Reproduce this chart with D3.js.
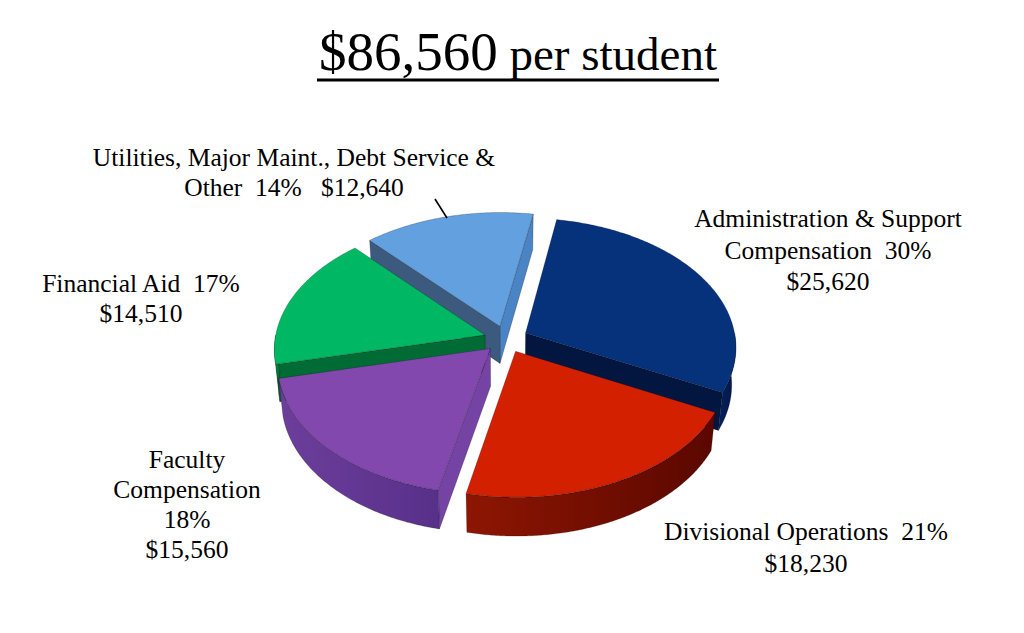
<!DOCTYPE html>
<html><head><meta charset="utf-8">
<script src="https://cdn.jsdelivr.net/npm/d3@7"></script>
<style>
html,body{margin:0;padding:0;background:#fff;}
svg{display:block;font-family:"Liberation Serif","Times New Roman",serif;}
text{white-space:pre;}
</style></head>
<body>
<script>
// ---------- data ----------
const titleMain = "$86,560";
const titleSub = " per student";
const categories = [
  "Administration & Support Compensation",
  "Divisional Operations",
  "Faculty Compensation",
  "Financial Aid",
  "Utilities, Major Maint., Debt Service & Other"
];
const amounts = [25620, 18230, 15560, 14510, 12640];
const percents = ["30%", "21%", "18%", "17%", "14%"];
const labelLines = [
  ["Administration & Support", "Compensation  30%", "$25,620"],
  ["Divisional Operations  21%", "$18,230"],
  ["Faculty", "Compensation", "18%", "$15,560"],
  ["Financial Aid  17%", "$14,510"],
  ["Utilities, Major Maint., Debt Service &", "Other  14%   $12,640"]
];

// ---------- style / layout ----------
const W = 1024, H = 633;
const topColors = ["#05327A", "#D22000", "#8248AE", "#00B864", "#62A0DF"];
const wallColors = [["#06215E", "#021643"], ["#8E1602", "#5A0700"], ["#6D3E9B", "#57308A"], ["#008C46", "#006A33"], ["#4F86C6", "#3D5B7E"]];
const cutColors = [["#031A4C", "#021640"], ["#7A1000", "#7A1000"], ["#7443A4", "#7443A4"], ["#006B34", "#006B34"], ["#3C5A7E", "#4A84C4"]];
const labelPos = [
  {x: 828, y: 227, dy: 31.5},
  {x: 806, y: 540, dy: 32},
  {x: 187, y: 468, dy: 30},
  {x: 141, y: 292, dy: 30},
  {x: 294, y: 166, dy: 29.5}
];
const cfg = {cx: 506, cy: 339, R: 210, E: 22, T: 48, sinA: 0.61, F: 1600, start: 10, minWall: 0.1};

const svg = d3.select("body").append("svg").attr("width", W).attr("height", H);
const defs = svg.append("defs");

// ---------- projection ----------
const cosA = Math.sqrt(1 - cfg.sinA * cfg.sinA);
function proj(X, Z, Y) {
  const depth = cfg.F + Z * cosA - Y * cfg.sinA;
  const k = cfg.F / depth;
  return [cfg.cx + X * k, cfg.cy - (Z * cfg.sinA + Y * cosA) * k];
}
const line = d3.line();

const a0 = cfg.start * Math.PI / 180;
const arcs = d3.pie().sort(null).value(d => d).startAngle(a0).endAngle(a0 + 2 * Math.PI)(amounts);

const faces = [];
const tops = [];
arcs.forEach((d, i) => {
  const m = (d.startAngle + d.endAngle) / 2;
  const ox = cfg.E * Math.sin(m), oz = cfg.E * Math.cos(m);
  const rim = (t, Y) => proj(ox + cfg.R * Math.sin(t), oz + cfg.R * Math.cos(t), Y);
  const apex = Y => proj(ox, oz, Y);
  const steps = t0 => t1 => d3.range(t0, t1, Math.PI / 360).concat([t1]);

  // top
  const tp = [apex(0)].concat(steps(d.startAngle)(d.endAngle).map(t => rim(t, 0)));
  tops.push({path: line(tp) + "Z", fill: topColors[i]});

  // cut faces
  if (Math.sin(d.startAngle) < 0) {
    const t = d.startAngle;
    faces.push({path: line([apex(0), rim(t, 0), rim(t, -cfg.T), apex(-cfg.T)]) + "Z",
      fill: cutColors[i][0], z: oz + cfg.R / 2 * Math.cos(t)});
  }
  if (Math.sin(d.endAngle) > 0) {
    const t = d.endAngle;
    faces.push({path: line([apex(0), rim(t, 0), rim(t, -cfg.T), apex(-cfg.T)]) + "Z",
      fill: cutColors[i][1], z: oz + cfg.R / 2 * Math.cos(t)});
  }
  // outer wall (front half)
  [[Math.PI / 2, 3 * Math.PI / 2], [Math.PI / 2 + 2 * Math.PI, 3 * Math.PI / 2 + 2 * Math.PI]].forEach(([v0, v1]) => {
    const b0 = Math.max(v0, d.startAngle), b1 = Math.min(v1, d.endAngle);
    if (b1 - b0 > cfg.minWall) {
      const ts = steps(b0)(b1);
      const pts = ts.map(t => rim(t, 0)).concat(ts.slice().reverse().map(t => rim(t, -cfg.T)));
      const gid = "wall" + i + "_" + Math.round(b0 * 100);
      const g = defs.append("linearGradient").attr("id", gid)
        .attr("x1", 0).attr("x2", 1).attr("y1", 0).attr("y2", 0);
      g.append("stop").attr("offset", 0).attr("stop-color", wallColors[i][0]);
      g.append("stop").attr("offset", 1).attr("stop-color", wallColors[i][1]);
      faces.push({path: line(pts) + "Z", fill: "url(#" + gid + ")", z: oz + cfg.R * Math.cos((b0 + b1) / 2)});
    }
  });
});

faces.sort((a, b) => b.z - a.z);
const pieG = svg.append("g");
pieG.selectAll("path.side").data(faces).join("path").attr("class", "side")
  .attr("d", f => f.path).attr("fill", f => f.fill)
  .attr("stroke", "rgba(0,0,0,0.35)").attr("stroke-width", 0.6).attr("stroke-linejoin", "round");
pieG.selectAll("path.top").data(tops).join("path").attr("class", "top")
  .attr("d", f => f.path).attr("fill", f => f.fill)
  .attr("stroke", "rgba(0,0,0,0.35)").attr("stroke-width", 0.6).attr("stroke-linejoin", "round");

// ---------- labels ----------
const lg = svg.append("g").attr("font-size", 25.5).attr("fill", "#000").attr("text-anchor", "middle");
labelLines.forEach((lines, i) => {
  const p = labelPos[i];
  const t = lg.append("text").attr("x", p.x).attr("y", p.y);
  lines.forEach((s, j) => {
    t.append("tspan").attr("x", p.x).attr("y", p.y + j * p.dy).text(s);
  });
});
// leader line for utilities label
svg.append("line").attr("x1", 435).attr("y1", 199).attr("x2", 447).attr("y2", 218)
  .attr("stroke", "#000").attr("stroke-width", 1.6);

// ---------- title ----------
const title = svg.append("text").attr("x", 518).attr("y", 70).attr("text-anchor", "middle").attr("fill", "#000");
title.append("tspan").attr("font-size", 55).text(titleMain);
title.append("tspan").attr("font-size", 47).text(titleSub);
const bb = title.node().getBBox();
svg.append("rect").attr("x", bb.x - 2).attr("y", 78.5).attr("width", bb.width + 4).attr("height", 3).attr("fill", "#000");
</script>
</body></html>
